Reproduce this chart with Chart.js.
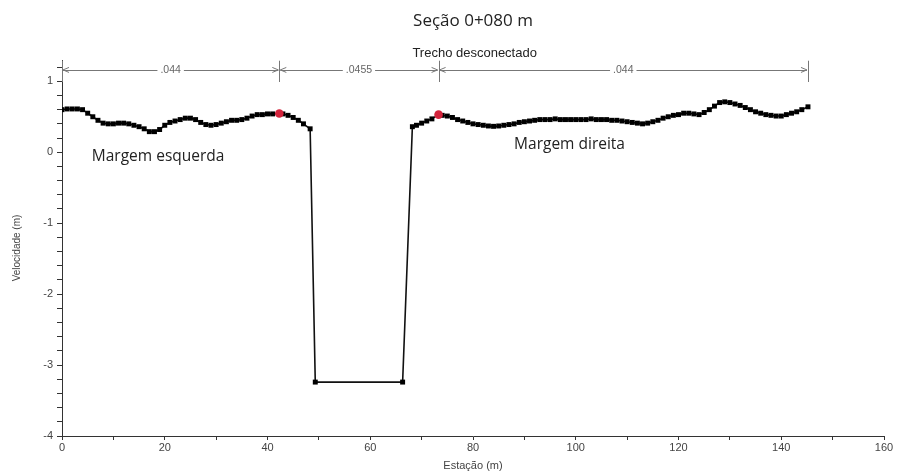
<!DOCTYPE html>
<html>
<head>
<meta charset="utf-8">
<script src="https://cdn.jsdelivr.net/npm/chart.js@4.4.1/dist/chart.umd.min.js"></script>
<style>
  html, body { margin: 0; padding: 0; background: #fff; }
  #wrap { position: relative; width: 898px; height: 475px; }
</style>
</head>
<body>
<div id="wrap"><canvas id="secao"></canvas></div>
<script>
// cross-section profile: station (m) and value (m)
const stations = [
  0, 1, 2, 3, 4, 5, 6, 7, 8, 9,
  10, 11, 12, 13, 14, 15, 16, 17, 18, 19,
  20, 21, 22, 23, 24, 25, 26, 27, 28, 29,
  30, 31, 32, 33, 34, 35, 36, 37, 38, 39,
  40, 41, 42.3, 43, 44, 45, 46, 47, 48.3,
  49.3, 66.3,
  68.2, 69, 70, 71, 72, 73.3, 74, 75, 76, 77, 78, 79,
  80, 81, 82, 83, 84, 85, 86, 87, 88, 89,
  90, 91, 92, 93, 94, 95, 96, 97, 98, 99,
  100, 101, 102, 103, 104, 105, 106, 107, 108, 109,
  110, 111, 112, 113, 114, 115, 116, 117, 118, 119,
  120, 121, 122, 123, 124, 125, 126, 127, 128, 129,
  130, 131, 132, 133, 134, 135, 136, 137, 138, 139,
  140, 141, 142, 143, 144, 145.2
];
const elevations = [
  0.60, 0.61, 0.61, 0.61, 0.60, 0.55, 0.50, 0.45, 0.41, 0.40,
  0.40, 0.41, 0.41, 0.40, 0.38, 0.36, 0.33, 0.29, 0.29, 0.32,
  0.38, 0.42, 0.44, 0.46, 0.48, 0.48, 0.46, 0.42, 0.39, 0.38,
  0.39, 0.41, 0.43, 0.45, 0.45, 0.46, 0.48, 0.51, 0.53, 0.53,
  0.54, 0.54, 0.545, 0.54, 0.52, 0.49, 0.45, 0.40, 0.33,
  -3.24, -3.24,
  0.36, 0.38, 0.41, 0.44, 0.47, 0.53, 0.52, 0.51, 0.49, 0.46, 0.44, 0.42,
  0.40, 0.39, 0.38, 0.37, 0.365, 0.37, 0.38, 0.39, 0.40, 0.42,
  0.43, 0.44, 0.45, 0.46, 0.46, 0.46, 0.47, 0.46, 0.46, 0.46,
  0.46, 0.46, 0.46, 0.47, 0.46, 0.46, 0.46, 0.45, 0.45, 0.44,
  0.43, 0.42, 0.41, 0.40, 0.41, 0.43, 0.45, 0.48, 0.50, 0.52,
  0.53, 0.55, 0.55, 0.54, 0.53, 0.56, 0.60, 0.65, 0.70, 0.71,
  0.70, 0.68, 0.66, 0.63, 0.60, 0.57, 0.55, 0.53, 0.52, 0.51,
  0.51, 0.53, 0.55, 0.57, 0.60, 0.64
];

// bank stations (red markers)
const bankStations = [42.3, 73.3];
const bankElevations = [0.545, 0.53];

// Manning n by reach, between these stations
const nBreaks = [0, 42.3, 73.3, 145.2];
const nValues = ['.044', '.0455', '.044'];

const xTickLabels = [0, 20, 40, 60, 80, 100, 120, 140, 160];
const yTickLabels = [-4, -3, -2, -1, 0, 1];

const AXIS = '#333';
const TEXT = '#444';

const profile = stations.map((x, i) => ({ x, y: elevations[i] }));
const banks = bankStations.map((x, i) => ({ x, y: bankElevations[i] }));

const annotations = {
  id: 'annotations',
  afterDraw(chart) {
    const c = chart.ctx;
    const xs = chart.scales.x;
    const ys = chart.scales.y;
    const area = chart.chartArea;
    c.save();

    // title, centred over the plot area
    c.fillStyle = '#222';
    c.font = '17px "Open Sans", sans-serif';
    c.textAlign = 'center';
    c.textBaseline = 'middle';
    c.fillText('Seção 0+080 m', (area.left + area.right) / 2, 21);

    // Manning n dimension lines
    const yLine = ys.getPixelForValue(1.16);
    const yTop = ys.getPixelForValue(1.29);
    const yBot = ys.getPixelForValue(0.99);
    c.strokeStyle = '#777';
    c.fillStyle = '#666';
    c.lineWidth = 1;
    c.font = '10.5px "Liberation Sans", Arial, sans-serif';
    for (const s of nBreaks) {
      const px = Math.round(xs.getPixelForValue(s)) + 0.5;
      c.beginPath();
      c.moveTo(px, yTop);
      c.lineTo(px, yBot);
      c.stroke();
    }
    const arrow = (px, dir) => {
      c.beginPath();
      c.moveTo(px + dir * 6, yLine - 2.5);
      c.lineTo(px, yLine);
      c.lineTo(px + dir * 6, yLine + 2.5);
      c.stroke();
    };
    for (let i = 0; i < nValues.length; i++) {
      const a = xs.getPixelForValue(nBreaks[i]) + 1;
      const b = xs.getPixelForValue(nBreaks[i + 1]) - 1;
      const mid = (a + b) / 2;
      const half = c.measureText(nValues[i]).width / 2 + 3;
      const yl = Math.round(yLine) + 0.5;
      c.beginPath();
      c.moveTo(a, yl);
      c.lineTo(mid - half, yl);
      c.moveTo(mid + half, yl);
      c.lineTo(b, yl);
      c.stroke();
      arrow(a, 1);
      arrow(b, -1);
      c.fillText(nValues[i], mid, yLine + 0.5);
    }

    c.fillStyle = '#222';
    c.font = '13px "Liberation Sans", Arial, sans-serif';
    c.textAlign = 'left';
    c.textBaseline = 'alphabetic';
    c.fillText('Trecho desconectado', xs.getPixelForValue(68.2), ys.getPixelForValue(1.34));

    c.font = '15.5px "Open Sans", sans-serif';
    c.fillText('Margem esquerda', xs.getPixelForValue(5.8), ys.getPixelForValue(-0.127));
    c.fillText('Margem direita', xs.getPixelForValue(88), ys.getPixelForValue(0.04));
    c.restore();
  }
};

new Chart(document.getElementById('secao'), {
  type: 'scatter',
  data: {
    datasets: [
      {
        data: banks,
        showLine: false,
        pointStyle: 'circle',
        pointRadius: 4.3,
        backgroundColor: '#d3243c',
        borderColor: '#d3243c',
        borderWidth: 0
      },
      {
        data: profile,
        showLine: true,
        borderColor: '#111',
        borderWidth: 1.6,
        pointStyle: 'rect',
        pointRadius: 3.5,
        backgroundColor: '#000',
        pointBorderWidth: 0,
        tension: 0
      }
    ]
  },
  options: {
    responsive: true,
    maintainAspectRatio: false,
    animation: false,
    events: [],
    layout: { padding: { top: 60, right: 14, bottom: 0, left: 0 } },
    plugins: {
      legend: { display: false },
      tooltip: { enabled: false },
      title: { display: false }
    },
    scales: {
      x: {
        type: 'linear',
        min: 0,
        max: 160,
        afterFit: (s) => { s.height = 39; },
        border: { color: AXIS, width: 1 },
        grid: { drawOnChartArea: false, drawTicks: true, tickLength: 4, color: AXIS },
        ticks: {
          stepSize: 10,
          autoSkip: false,
          maxRotation: 0,
          padding: 1,
          color: TEXT,
          font: { family: '"Liberation Sans", Arial, sans-serif', size: 11 },
          callback: (v) => (xTickLabels.includes(Math.round(v)) && Math.abs(v - Math.round(v)) < 1e-6 ? String(Math.round(v)) : '')
        },
        title: {
          display: true,
          text: 'Estação (m)',
          color: TEXT,
          font: { family: '"Liberation Sans", Arial, sans-serif', size: 11 },
          padding: { top: 0, bottom: 2 }
        }
      },
      y: {
        type: 'linear',
        min: -4,
        max: 1.3,
        afterFit: (s) => { s.width = 62; },
        border: { color: AXIS, width: 1 },
        grid: { drawOnChartArea: false, drawTicks: true, tickLength: 5, color: AXIS },
        ticks: {
          stepSize: 0.2,
          includeBounds: false,
          autoSkip: false,
          padding: 4,
          color: TEXT,
          font: { family: '"Liberation Sans", Arial, sans-serif', size: 11 },
          callback: (v) => {
            const r = Math.round(v);
            return Math.abs(v - r) < 1e-6 && yTickLabels.includes(r) ? String(r) : '';
          }
        },
        title: {
          display: true,
          text: 'Velocidade (m)',
          color: TEXT,
          font: { family: '"Liberation Sans", Arial, sans-serif', size: 10 },
          padding: { top: 11, bottom: 0 }
        }
      }
    }
  },
  plugins: [annotations]
});
</script>
</body>
</html>
